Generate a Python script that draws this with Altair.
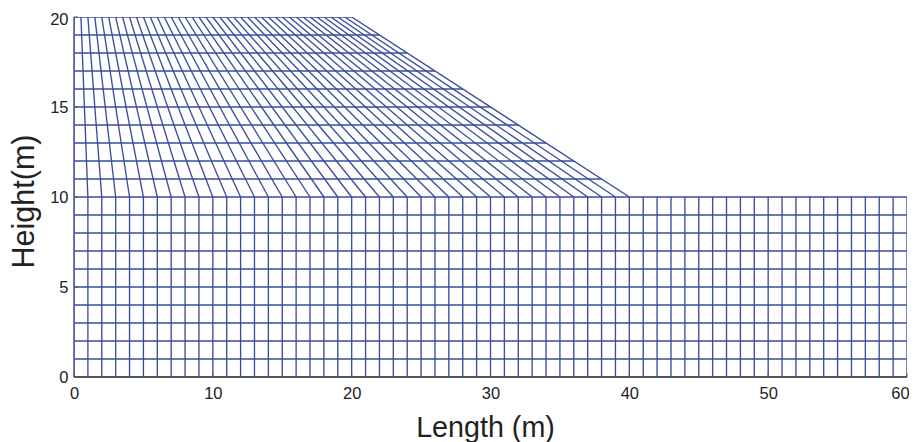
import altair as alt
import pandas as pd

FONT = "Liberation Sans"
MESH = "#3a4d9f"
INK = "#222222"

# Nodes of the lower block
lower_x = list(range(0, 61))
lower_y = list(range(0, 11))
# Upper block: column nodes at the base (y=10) and crest (y=20)
upper_base_x = list(range(0, 41))
upper_top_x = [i / 2 for i in range(0, 41)]
upper_y_low, upper_y_high = 10, 20
# Horizontal rows in the upper block: height and right end on the slope
row_y = [11, 12, 13, 14, 15, 16, 17, 18, 19, 20]
row_end = [38, 36, 34, 32, 30, 28, 26, 24, 22, 20]

x_ticks = [0, 10, 20, 30, 40, 50, 60]
y_ticks = [0, 5, 10, 15, 20]

vert = []
for x in lower_x:
    vert.append(dict(id=f"l{x}", x=x, y=0))
    vert.append(dict(id=f"l{x}", x=x, y=10))
for b, t in zip(upper_base_x, upper_top_x):
    vert.append(dict(id=f"u{b}", x=b, y=upper_y_low))
    vert.append(dict(id=f"u{b}", x=t, y=upper_y_high))

horiz = []
for y in lower_y:
    horiz.append(dict(id=f"h{y}", x=0, y=y))
    horiz.append(dict(id=f"h{y}", x=60, y=y))
for y, e in zip(row_y, row_end):
    horiz.append(dict(id=f"r{y}", x=0, y=y))
    horiz.append(dict(id=f"r{y}", x=e, y=y))

X = alt.Scale(domain=[0, 60], nice=False, zero=False)
Y = alt.Scale(domain=[0, 20], nice=False, zero=False)

x_axis = alt.Axis(values=x_ticks, title="Length (m)", grid=False, ticks=False, domain=False,
                  labelFont=FONT, labelFontSize=16.5, labelColor=INK, labelPadding=8, labelAngle=0,
                  labelFlush=False,
                  labelOffset={"condition": {"test": "datum.value === 60", "value": -7}, "value": 0},
                  titleFont=FONT, titleFontSize=28.7, titleFontWeight="normal", titleColor=INK,
                  titleX=411, titleY=59, titleBaseline="alphabetic", titleAlign="center")
y_axis = alt.Axis(values=y_ticks, title="Height(m)", grid=False, ticks=False, domain=False,
                  labelFont=FONT, labelFontSize=16.5, labelColor=INK, labelPadding=6,
                  labelFlush=False,
                  labelOffset={"condition": {"test": "datum.value === 20", "value": 2}, "value": 0},
                  titleFont=FONT, titleFontSize=30.5, titleFontWeight="normal", titleColor=INK,
                  titleX=-41, titleY=184, titleBaseline="alphabetic", titleAlign="center")

lines = (
    alt.Chart(pd.DataFrame(vert + horiz))
    .mark_line(color=MESH, strokeWidth=1.35, interpolate="linear", clip=True)
    .encode(x=alt.X("x:Q", scale=X, axis=x_axis),
            y=alt.Y("y:Q", scale=Y, axis=y_axis, sort=None),
            detail="id:N", order=alt.Order("y:Q"))
)

base_line = (
    alt.Chart(pd.DataFrame({"x": [0], "x2": [60], "y": [0]}))
    .mark_rule(color="#555560", strokeWidth=1.8)
    .encode(x=alt.X("x:Q", scale=X), x2="x2:Q", y=alt.Y("y:Q", scale=Y))
)
left_line = (
    alt.Chart(pd.DataFrame({"x": [0], "y": [0], "y2": [20]}))
    .mark_rule(color="#4a5598", strokeWidth=1.5)
    .encode(x=alt.X("x:Q", scale=X), y=alt.Y("y:Q", scale=Y), y2="y2:Q")
)
xt = (
    alt.Chart(pd.DataFrame({"x": x_ticks, "y": [0] * 7, "y2": [0.2] * 7}))
    .mark_rule(color="#555560", strokeWidth=1)
    .encode(x=alt.X("x:Q", scale=X), y=alt.Y("y:Q", scale=Y), y2="y2:Q")
)
yt = (
    alt.Chart(pd.DataFrame({"x": [0] * 5, "x2": [0.3] * 5, "y": y_ticks}))
    .mark_rule(color="#555560", strokeWidth=1)
    .encode(x=alt.X("x:Q", scale=X), x2="x2:Q", y=alt.Y("y:Q", scale=Y))
)

chart = (
    alt.layer(lines, left_line, base_line, xt, yt)
    .properties(width=833, height=360, background="white",
                autosize=alt.AutoSizeParams(type="none"),
                padding={"left": 66, "top": 9, "right": 2, "bottom": 66})
    .configure_view(stroke=None)
)
chart.save("out.html", embed_options={"renderer": "svg", "actions": False})
